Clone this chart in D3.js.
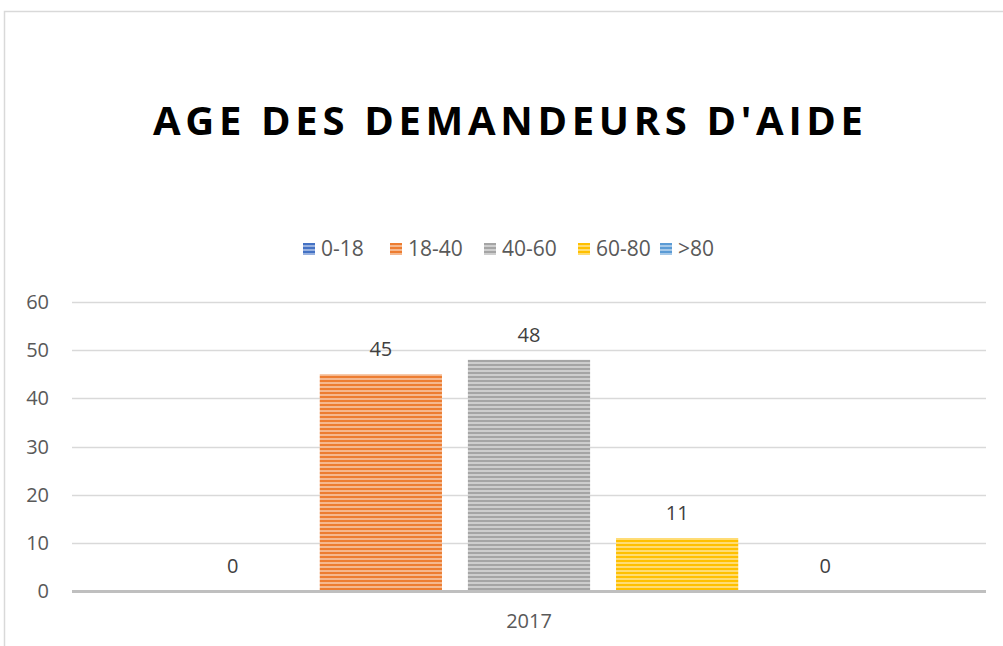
<!DOCTYPE html>
<html>
<head>
<meta charset="utf-8">
<script src="https://cdn.jsdelivr.net/npm/d3@7"></script>
<style>
	body { margin: 0; background: #fff; }
	svg { display: block; }
	text { font-family: "Open Sans", "Liberation Sans", sans-serif; }
</style>
</head>
<body>
<svg id="chart"></svg>
<script>
// data
var categories = ["2017"];
var seriesNames = ["0-18", "18-40", "40-60", "60-80", ">80"];
var seriesValues = [0, 45, 48, 11, 0];
var seriesColors = ["#4472C4", "#ED7D31", "#A5A5A5", "#FFC000", "#5B9BD5"];
var yTicks = [0, 10, 20, 30, 40, 50, 60];
var title = "AGE DES DEMANDEURS D'AIDE";

var width = 1003, height = 646;
var margin = {top: 302, right: 17, bottom: 55, left: 72};

var svg = d3.select("#chart")
	.attr("width", width)
	.attr("height", height);

// stripe patterns (narrow horizontal) for each series
var defs = svg.append("defs");
seriesColors.forEach(function(c, i) {
	var light = d3.interpolateRgb(c, "#ffffff")(0.45);
	var p = defs.append("pattern")
		.attr("id", "stripe" + i)
		.attr("patternUnits", "userSpaceOnUse")
		.attr("width", 8)
		.attr("height", 4);
	p.append("rect").attr("width", 8).attr("height", 4).attr("fill", light);
	p.append("rect").attr("width", 8).attr("height", 2).attr("fill", c);
});

// chart area border (only left and top visible in the crop)
svg.append("path")
	.attr("d", "M4.5," + height + "V11.5H" + width)
	.attr("fill", "none")
	.attr("stroke", "#d9d9d9")
	.attr("stroke-width", 1.5);

// title
svg.append("text")
	.attr("x", 153)
	.attr("y", 135)
	.attr("textLength", 710)
	.attr("lengthAdjust", "spacing")
	.attr("font-size", 40)
	.attr("font-weight", "bold")
	.attr("fill", "#000")
	.text(title);

var plotW = width - margin.left - margin.right,
	plotH = height - margin.top - margin.bottom;

var y = d3.scaleLinear()
	.domain([0, 60])
	.range([margin.top + plotH, margin.top]);

var x0 = d3.scaleBand()
	.domain(categories)
	.range([margin.left, margin.left + plotW])
	.paddingOuter(0.117);

var x1 = d3.scaleBand()
	.domain(seriesNames)
	.range([0, x0.bandwidth()])
	.paddingInner(0.175)
	.paddingOuter(0.0875);

// gridlines
svg.append("g")
	.selectAll("line")
	.data(yTicks.filter(function(d) { return d > 0; }))
	.enter().append("line")
	.attr("x1", margin.left)
	.attr("x2", margin.left + plotW)
	.attr("y1", function(d) { return Math.round(y(d)) + 0.5; })
	.attr("y2", function(d) { return Math.round(y(d)) + 0.5; })
	.attr("stroke", "#d9d9d9")
	.attr("stroke-width", 1.5);

// y tick labels
svg.append("g")
	.selectAll("text")
	.data(yTicks)
	.enter().append("text")
	.attr("x", 49)
	.attr("y", function(d) { return y(d); })
	.attr("dy", "0.35em")
	.attr("text-anchor", "end")
	.attr("font-size", 20)
	.attr("fill", "#595959")
	.text(function(d) { return d; });

// bars
var group = svg.append("g")
	.selectAll("g")
	.data(categories)
	.enter().append("g")
	.attr("transform", function(d) { return "translate(" + x0(d) + ",0)"; });

group.selectAll("rect")
	.data(seriesValues.map(function(v, i) { return {name: seriesNames[i], value: v, i: i}; }))
	.enter().append("rect")
	.attr("x", function(d) { return x1(d.name); })
	.attr("y", function(d) { return y(d.value); })
	.attr("width", x1.bandwidth())
	.attr("height", function(d) { return y(0) - y(d.value); })
	.attr("fill", function(d) { return "url(#stripe" + d.i + ")"; });

// data labels
group.selectAll("text")
	.data(seriesValues.map(function(v, i) { return {name: seriesNames[i], value: v}; }))
	.enter().append("text")
	.attr("x", function(d) { return x1(d.name) + x1.bandwidth() / 2; })
	.attr("y", function(d) { return y(d.value) - 18; })
	.attr("text-anchor", "middle")
	.attr("font-size", 20)
	.attr("fill", "#404040")
	.text(function(d) { return d.value; });

// zero axis line
svg.append("line")
	.attr("x1", margin.left)
	.attr("x2", margin.left + plotW)
	.attr("y1", y(0) + 0.5)
	.attr("y2", y(0) + 0.5)
	.attr("stroke", "#bfbfbf")
	.attr("stroke-width", 3);

// category label
svg.append("g")
	.selectAll("text")
	.data(categories)
	.enter().append("text")
	.attr("x", function(d) { return x0(d) + x0.bandwidth() / 2; })
	.attr("y", 628)
	.attr("text-anchor", "middle")
	.attr("font-size", 20)
	.attr("fill", "#595959")
	.text(function(d) { return d; });

// legend
var legendX = [303, 390, 484, 578, 660];
var legend = svg.append("g")
	.selectAll("g")
	.data(seriesNames)
	.enter().append("g")
	.attr("transform", function(d, i) { return "translate(" + legendX[i] + ",243)"; });

legend.append("rect")
	.attr("width", 12)
	.attr("height", 12)
	.attr("fill", function(d, i) { return "url(#stripe" + i + ")"; });

legend.append("text")
	.attr("x", 18)
	.attr("y", 6)
	.attr("dy", "0.35em")
	.attr("font-size", 21)
	.attr("fill", "#595959")
	.text(function(d) { return d; });
</script>
</body>
</html>
